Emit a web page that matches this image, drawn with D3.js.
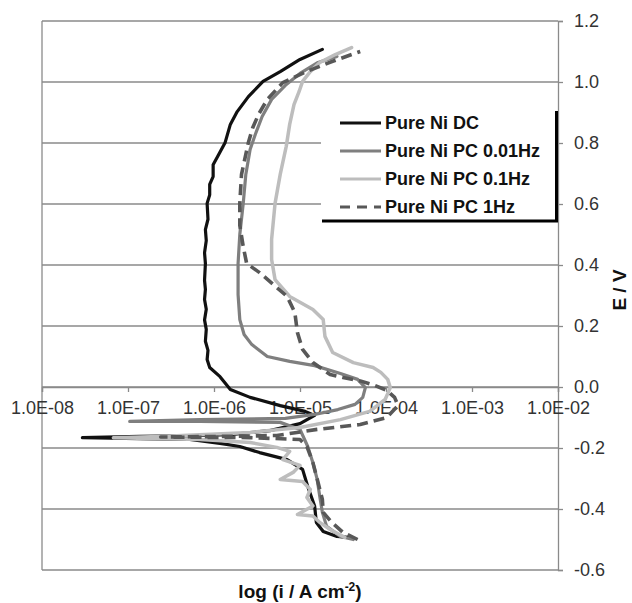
<!DOCTYPE html>
<html><head><meta charset="utf-8">
<script src="https://cdn.jsdelivr.net/npm/d3@7"></script>
<style>body{margin:0;background:#fff}svg{display:block}</style>
</head><body>
<script>
// ---- data ----
const xTicks = [-8, -7, -6, -5, -4, -3, -2];
const xTickLabels = ["1.0E-08", "1.0E-07", "1.0E-06", "1.0E-05", "1.0E-04", "1.0E-03", "1.0E-02"];
const yTicks = [1.2, 1.0, 0.8, 0.6, 0.4, 0.2, 0.0, -0.2, -0.4, -0.6];
const yTickLabels = ["1.2", "1.0", "0.8", "0.6", "0.4", "0.2", "0.0", "-0.2", "-0.4", "-0.6"];
const seriesNames = ["Pure Ni DC", "Pure Ni PC 0.01Hz", "Pure Ni PC 0.1Hz", "Pure Ni PC 1Hz"];

// log10(i / A cm-2) and E / V for each curve
const dcLogI = [-4.44,-4.57,-4.73,-4.81,-4.83,-4.91,-4.97,-5.15,-5.47,-5.70,-5.93,-6.28,-6.86,-7.53,-6.86,-6.16,-5.81,-5.35,-5.00,-4.83,-4.94,-5.23,-5.58,-5.81,-5.93,-6.05,-6.08,-6.07,-6.10,-6.09,-6.11,-6.09,-6.11,-6.10,-6.11,-6.10,-6.11,-6.09,-6.10,-6.07,-6.08,-6.05,-6.05,-6.01,-6.01,-5.95,-5.87,-5.81,-5.73,-5.60,-5.43,-5.23,-5.00,-4.74];
const dcE    = [-0.493,-0.490,-0.474,-0.444,-0.390,-0.326,-0.270,-0.238,-0.215,-0.195,-0.185,-0.172,-0.169,-0.166,-0.162,-0.159,-0.156,-0.143,-0.120,-0.093,-0.080,-0.061,-0.034,-0.008,0.034,0.064,0.090,0.120,0.150,0.189,0.220,0.255,0.287,0.320,0.350,0.405,0.440,0.480,0.516,0.550,0.602,0.630,0.664,0.690,0.729,0.760,0.802,0.861,0.903,0.952,1.002,1.034,1.074,1.107];

const pc001LogI = [-4.38,-4.53,-4.69,-4.74,-4.77,-4.80,-4.85,-4.91,-5.00,-5.23,-6.16,-6.98,-6.16,-5.17,-4.83,-4.56,-4.36,-4.27,-4.24,-4.33,-4.53,-4.83,-5.12,-5.38,-5.56,-5.65,-5.70,-5.72,-5.72,-5.70,-5.66,-5.63,-5.58,-5.52,-5.44,-5.33,-5.17,-5.00,-4.79,-4.57];
const pc001E    = [-0.500,-0.490,-0.457,-0.411,-0.359,-0.303,-0.248,-0.195,-0.139,-0.116,-0.113,-0.113,-0.107,-0.103,-0.090,-0.074,-0.057,-0.034,-0.002,0.025,0.044,0.070,0.084,0.100,0.139,0.172,0.221,0.303,0.405,0.500,0.602,0.697,0.779,0.828,0.887,0.943,0.989,1.028,1.064,1.084];

const pc01LogI = [-4.48,-4.65,-4.77,-4.85,-5.03,-4.85,-4.92,-4.88,-4.97,-5.23,-5.08,-5.00,-5.20,-5.12,-5.27,-5.58,-6.16,-7.17,-6.63,-5.58,-5.00,-4.53,-4.19,-4.01,-3.95,-3.98,-4.06,-4.15,-4.38,-4.62,-4.71,-4.73,-4.85,-5.12,-5.29,-5.33,-5.33,-5.29,-5.23,-5.16,-5.12,-5.07,-5.01,-4.97,-4.88,-4.77,-4.59,-4.40];
const pc01E    = [-0.493,-0.467,-0.444,-0.423,-0.418,-0.390,-0.362,-0.336,-0.310,-0.303,-0.280,-0.257,-0.238,-0.211,-0.198,-0.182,-0.172,-0.166,-0.162,-0.149,-0.133,-0.107,-0.080,-0.041,-0.002,0.025,0.048,0.064,0.080,0.113,0.166,0.221,0.254,0.297,0.352,0.418,0.484,0.602,0.697,0.789,0.861,0.926,0.969,1.002,1.034,1.064,1.090,1.113];

const pc1LogI = [-4.33,-4.50,-4.63,-4.73,-4.74,-4.79,-4.85,-4.92,-5.00,-5.58,-6.62,-5.90,-5.27,-4.80,-4.30,-3.99,-3.86,-3.90,-3.99,-4.13,-4.30,-4.50,-4.65,-4.85,-4.97,-5.03,-5.06,-5.15,-5.31,-5.47,-5.62,-5.66,-5.70,-5.70,-5.68,-5.60,-5.55,-5.48,-5.38,-5.20,-4.91,-4.62,-4.30];
const pc1E    = [-0.500,-0.477,-0.444,-0.411,-0.369,-0.313,-0.248,-0.195,-0.172,-0.166,-0.164,-0.162,-0.159,-0.139,-0.123,-0.100,-0.061,-0.034,-0.011,0.005,0.020,0.031,0.041,0.080,0.123,0.179,0.244,0.297,0.336,0.375,0.405,0.460,0.530,0.602,0.697,0.802,0.850,0.895,0.943,0.998,1.036,1.068,1.100];

const series = [
  {name: seriesNames[0], x: dcLogI, y: dcE, color: "#111111", width: 3.2, dash: null},
  {name: seriesNames[1], x: pc001LogI, y: pc001E, color: "#7f7f7f", width: 3.2, dash: null},
  {name: seriesNames[2], x: pc01LogI, y: pc01E, color: "#bdbdbd", width: 3.5, dash: null},
  {name: seriesNames[3], x: pc1LogI, y: pc1E, color: "#585858", width: 3.6, dash: "11,6"}
];

// ---- drawing ----
const W = 632, H = 603;
const L = 42, R = 558, T = 21, B = 570;
const svg = d3.select("body").append("svg").attr("width", W).attr("height", H)
  .style("font-family", "Arial, 'Liberation Sans', sans-serif");

const x = d3.scaleLinear().domain([-8, -2]).range([L, R]);
const y = d3.scaleLinear().domain([-0.6, 1.2]).range([B, T]);

const gridColor = "#8a8a8a";
svg.append("g").selectAll("line").data(yTicks).join("line")
  .attr("x1", L).attr("x2", R)
  .attr("y1", d => y(d)).attr("y2", d => y(d))
  .attr("stroke", gridColor).attr("stroke-width", 1.3);
svg.append("line").attr("x1", L).attr("x2", L).attr("y1", T).attr("y2", B)
  .attr("stroke", gridColor).attr("stroke-width", 1.3);

const yAxis = d3.axisRight(y).tickValues(yTicks).tickSize(5)
  .tickFormat((d, i) => yTickLabels[i]);
const gy = svg.append("g").attr("transform", `translate(${R},0)`).call(yAxis);
gy.select(".domain").attr("stroke", gridColor).attr("stroke-width", 1.3);
gy.selectAll(".tick line").attr("stroke", gridColor).attr("stroke-width", 1.3);
gy.selectAll(".tick text").attr("x", 16).attr("font-size", 18).attr("fill", "#333")
  .attr("font-family", "Arial, 'Liberation Sans', sans-serif");

const xAxis = d3.axisBottom(x).tickValues(xTicks).tickSize(5)
  .tickFormat((d, i) => xTickLabels[i]);
const gx = svg.append("g").attr("transform", `translate(0,${y(0)})`).call(xAxis);
gx.select(".domain").attr("stroke", gridColor).attr("stroke-width", 1.3);
gx.selectAll(".tick line").attr("stroke", gridColor).attr("stroke-width", 1.3);
gx.selectAll(".tick text").attr("y", 14).attr("font-size", 18).attr("fill", "#333")
  .attr("font-family", "Arial, 'Liberation Sans', sans-serif");

const line = d3.line().x(d => x(d[0])).y(d => y(d[1]));
series.forEach(s => {
  const pts = s.x.map((v, i) => [v, s.y[i]]);
  svg.append("path").datum(pts).attr("d", line)
    .attr("fill", "none").attr("stroke", s.color).attr("stroke-width", s.width)
    .attr("stroke-linejoin", "round").attr("stroke-linecap", s.dash ? "butt" : "round")
    .attr("stroke-dasharray", s.dash);
});

// legend
const lg = svg.append("g");
lg.append("rect").attr("x", 321).attr("y", 106).attr("width", 236).attr("height", 116).attr("fill", "#fff");
lg.append("line").attr("x1", 322).attr("x2", 558).attr("y1", 221).attr("y2", 221).attr("stroke", "#000").attr("stroke-width", 3);
lg.append("line").attr("x1", 556.5).attr("x2", 556.5).attr("y1", 111).attr("y2", 222).attr("stroke", "#000").attr("stroke-width", 3);
series.forEach((s, i) => {
  const cy = 123 + i * 28;
  lg.append("line").attr("x1", 340).attr("x2", 381).attr("y1", cy).attr("y2", cy)
    .attr("stroke", s.color).attr("stroke-width", 3).attr("stroke-dasharray", s.dash ? "10,7" : null);
  lg.append("text").attr("x", 385).attr("y", cy + 6).attr("font-size", 18).attr("font-weight", "bold")
    .attr("fill", "#111").text(s.name);
});

// axis titles
const xt = svg.append("text").attr("x", (L + R) / 2).attr("y", 598).attr("text-anchor", "middle")
  .attr("font-size", 19).attr("font-weight", "bold").attr("fill", "#111");
xt.append("tspan").text("log (i / A cm");
xt.append("tspan").attr("font-size", 12).attr("dy", -7).text("-2");
xt.append("tspan").attr("dy", 7).text(")");

svg.append("text").attr("transform", "translate(626,290) rotate(-90)").attr("text-anchor", "middle")
  .attr("font-size", 19).attr("font-weight", "bold").attr("fill", "#111").text("E / V");
</script>
</body></html>
